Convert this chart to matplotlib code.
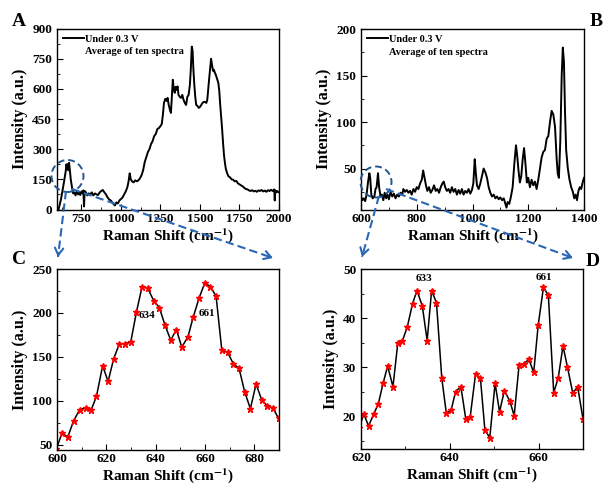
import matplotlib
matplotlib.use("Agg")
import matplotlib.pyplot as plt
from matplotlib.ticker import AutoMinorLocator, MultipleLocator
from matplotlib.patches import Ellipse, FancyArrowPatch
from matplotlib.lines import Line2D

# ---- data ----
a_shift = [605, 620, 640, 650, 655, 660, 663, 667, 671, 676, 682, 690, 697, 705, 712, 720, 728, 735,
           742, 750, 757, 762, 766, 770, 778, 786, 795, 805, 815, 825, 835, 845, 855, 865, 875, 885,
           895, 905, 915, 925, 935, 945, 955, 962, 970, 980, 990, 1000, 1010, 1020, 1030, 1040, 1048,
           1055, 1062, 1070, 1080, 1090, 1100, 1110, 1120, 1130, 1140, 1150, 1160, 1170, 1180, 1190,
           1200, 1210, 1220, 1230, 1240, 1250, 1258, 1265, 1272, 1280, 1288, 1295, 1302, 1310, 1316,
           1322, 1328, 1334, 1340, 1346, 1352, 1358, 1364, 1372, 1380, 1388, 1396, 1404, 1412, 1420,
           1428, 1436, 1442, 1448, 1453, 1458, 1464, 1470, 1476, 1484, 1492, 1500, 1508, 1516, 1524,
           1532, 1540, 1546, 1552, 1558, 1564, 1570, 1576, 1582, 1588, 1594, 1600, 1608, 1616, 1622,
           1628, 1634, 1640, 1646, 1652, 1658, 1664, 1672, 1680, 1690, 1700, 1710, 1720, 1730, 1740,
           1750, 1760, 1770, 1780, 1790, 1800, 1810, 1820, 1830, 1840, 1850, 1860, 1870, 1880, 1890,
           1900, 1910, 1920, 1930, 1940, 1950, 1960, 1966, 1970, 1973, 1976, 1982, 1988, 1994, 2000]
a_int = [0, 50, 140, 190, 225, 200, 225, 195, 232, 200, 150, 110, 80, 85, 70, 90, 75, 85,
         72, 90, 80, 95, 15, 92, 85, 70, 80, 75, 85, 70, 80, 75, 72, 85, 92, 97,
         85, 75, 60, 50, 45, 35, 25, 20, 35, 30, 45, 52, 60, 75, 90, 110, 140,
         180, 150, 140, 135, 145, 140, 145, 155, 170, 195, 235, 260, 285, 300, 325,
         340, 365, 375, 400, 405, 415, 425, 470, 530, 550, 540, 555, 520, 495, 480,
         560, 645, 600, 580, 610, 595, 612, 570, 560, 555, 570, 545, 530, 520, 560,
         570, 620, 700, 810, 790, 700, 620, 560, 520, 515, 505, 510, 520, 530, 535,
         535, 530, 545, 600, 650, 700, 750, 720, 690, 695, 680, 670, 650, 630, 590,
         520, 460, 400, 330, 270, 230, 200, 180, 165, 160, 150, 148, 140, 142, 130,
         125, 120, 115, 108, 102, 100, 95, 92, 96, 90, 93, 88, 95, 92, 97,
         90, 94, 88, 96, 92, 98, 92, 97, 100, 45, 95, 85, 92, 88, 85]

b_shift = [600, 605, 610, 615, 620, 625, 630, 633, 637, 642, 648, 652, 656, 661, 665, 670, 675, 680,
           685, 690, 695, 700, 706, 712, 718, 724, 730, 736, 742, 748, 752, 758, 764, 770, 776, 782,
           788, 794, 800, 806, 812, 818, 823, 828, 833, 838, 844, 850, 856, 862, 868, 874, 880, 886,
           892, 897, 902, 908, 914, 920, 926, 932, 938, 944, 950, 956, 962, 968, 974, 980, 986, 992,
           998, 1003, 1008, 1012, 1016, 1022, 1028, 1034, 1040, 1046, 1052, 1058, 1064, 1070, 1076,
           1082, 1088, 1094, 1100, 1106, 1112, 1118, 1122, 1126, 1132, 1138, 1144, 1150, 1156, 1160,
           1165, 1170, 1175, 1180, 1185, 1190, 1195, 1200, 1206, 1212, 1218, 1224, 1230, 1236, 1242,
           1248, 1254, 1260, 1266, 1272, 1278, 1284, 1290, 1296, 1302, 1306, 1310, 1315, 1320, 1324,
           1328, 1332, 1336, 1342, 1348, 1354, 1360, 1365, 1370, 1375, 1380, 1385, 1390, 1395, 1400]
b_int = [20, 16, 18, 15, 22, 35, 45, 40, 22, 18, 20, 28, 30, 45, 30, 20, 22, 16,
         24, 18, 22, 17, 25, 20, 23, 18, 22, 20, 24, 22, 28, 25, 27, 24, 26, 22,
         28, 25, 30, 28, 34, 38, 48, 40, 32, 26, 30, 24, 27, 32, 26, 28, 24, 30,
         34, 36, 30, 26, 28, 24, 30, 25, 28, 22, 27, 23, 28, 22, 26, 24, 28, 23,
         27, 34, 60, 45, 32, 28, 34, 42, 50, 46, 40, 30, 24, 20, 22,
         18, 20, 17, 19, 16, 18, 12, 8, 14, 12, 20, 30, 55, 75, 65,
         48, 35, 42, 60, 72, 55, 35, 40, 30, 38, 32, 36, 28, 38, 50,
         62, 68, 70, 82, 85, 100, 112, 108, 95, 60, 44, 40, 80, 150, 180,
         165, 110, 70, 50, 38, 30, 25, 18, 22, 16, 26, 30, 28, 35, 40]

c_shift = [599.7, 602.0, 604.4, 606.7, 609.2, 611.6, 613.9, 616.0, 618.5, 620.7, 623.0, 625.3,
           627.6, 629.9, 632.2, 634.5, 636.8, 639.2, 641.5, 643.8, 646.1, 648.4, 650.6, 653.1,
           655.2, 657.6, 659.9, 662.2, 664.5, 666.8, 669.2, 671.5, 673.8, 676.1, 678.4, 680.7,
           683.0, 685.3, 687.5, 689.8]
c_int = [45, 63, 59, 77, 90, 92, 90, 105, 140, 122, 148, 165,
         165, 167, 201, 230, 228, 214, 206, 186, 169, 181, 161, 173,
         195, 217, 234, 230, 219, 158, 155, 142, 137, 110, 91, 119,
         101, 94, 92, 80]

d_shift = [619.6, 620.6, 621.7, 622.9, 623.9, 625.0, 626.0, 627.2, 628.3, 629.3, 630.4, 631.6,
           632.6, 633.8, 634.9, 635.9, 637.0, 638.2, 639.2, 640.3, 641.3, 642.5, 643.6, 644.6,
           645.8, 646.9, 647.9, 649.0, 650.2, 651.2, 652.3, 653.5, 654.5, 655.6, 656.6, 657.8,
           658.9, 659.9, 661.1, 662.2, 663.4, 664.4, 665.5, 666.5, 667.7, 668.8, 670.0]
d_int = [17.5, 20.5, 18.0, 20.5, 22.5, 26.8, 30.2, 26.0, 35.0, 35.3, 38.1, 42.9,
         45.6, 42.5, 35.4, 45.6, 43.1, 27.7, 20.7, 21.2, 25.0, 26.0, 19.4, 19.9,
         28.6, 27.7, 17.2, 15.6, 26.7, 20.9, 25.2, 23.1, 20.1, 30.4, 30.6, 31.6,
         28.9, 38.5, 46.3, 44.6, 24.8, 27.7, 34.3, 30.0, 24.7, 26.0, 19.4]

c_peaks = [(634, 636.4, 197), (661, 660.8, 199)]
d_peaks = [(633, 634.2, 48.0), (661, 661.3, 48.2)]

# ---- style ----
plt.rcParams.update({
    "font.family": ["Liberation Serif", "DejaVu Serif"],
    "font.weight": "bold",
    "axes.labelweight": "bold",
    "mathtext.fontset": "stix",
    "axes.linewidth": 1.0,
    "xtick.direction": "in",
    "ytick.direction": "in",
    "xtick.labelsize": 9.5,
    "ytick.labelsize": 9.5,
    "xtick.major.size": 4,
    "ytick.major.size": 4,
    "xtick.minor.size": 2.5,
    "ytick.minor.size": 2.5,
    "xtick.major.pad": 2.5,
})

W, H = 603, 488
fig = plt.figure(figsize=(W / 100, H / 100), dpi=100)


def px_axes(left, top, right, bottom):
    return fig.add_axes([left / W, 1 - bottom / H, (right - left) / W, (bottom - top) / H])


def px(x, y):
    return (x / W, 1 - y / H)


def style(ax, xmaj, ymaj):
    ax.xaxis.set_major_locator(MultipleLocator(xmaj))
    ax.yaxis.set_major_locator(MultipleLocator(ymaj))
    ax.xaxis.set_minor_locator(AutoMinorLocator(2))
    ax.yaxis.set_minor_locator(AutoMinorLocator(2))
    ax.tick_params(which="both", top=False, right=False)
    ax.set_xlabel(r"Raman Shift (cm$^{\mathbf{-1}}$)", fontsize=11, labelpad=0.5)
    ax.set_ylabel("Intensity (a.u.)", fontsize=11.5, labelpad=3)


axA = px_axes(57, 28.5, 279, 209.5)
axB = px_axes(361, 29, 584, 209.5)
axC = px_axes(57, 269, 279, 450)
axD = px_axes(361, 269, 583, 449)

# A
axA.plot(a_shift, a_int, color="black", lw=1.4)
axA.set_xlim(595, 2000)
axA.set_ylim(0, 900)
style(axA, 250, 150)
axA.set_xticks([750, 1000, 1250, 1500, 1750, 2000])

# B
axB.plot(b_shift, b_int, color="black", lw=1.4)
axB.set_xlim(600, 1400)
axB.set_ylim(6, 200)
style(axB, 200, 50)

for ax in (axA, axB):
    handles = [Line2D([], [], color="black", lw=1.4), Line2D([], [], color="none")]
    ax.legend(handles, ["Under 0.3 V", "Average of ten spectra"], loc="upper left",
              frameon=False, prop={"size": 7.5, "weight": "bold"}, handlelength=2.0,
              handletextpad=0.15, borderaxespad=0.15, labelspacing=0.35)

# C
axC.plot(c_shift, c_int, color="black", lw=1.1, marker="*", markersize=5,
         markerfacecolor="red", markeredgecolor="red")
axC.set_xlim(600, 690)
axC.set_ylim(44, 250)
style(axC, 20, 50)
axC.set_xticks([600, 620, 640, 660, 680])
for lab, x, y in c_peaks:
    axC.text(x, y, str(lab), fontsize=8, ha="center", va="center", fontweight="bold")

# D
axD.plot(d_shift, d_int, color="black", lw=1.1, marker="*", markersize=5,
         markerfacecolor="red", markeredgecolor="red")
axD.set_xlim(620, 670)
axD.set_ylim(13.3, 50)
style(axD, 20, 10)
for lab, x, y in d_peaks:
    axD.text(x, y, str(lab), fontsize=8, ha="center", va="center", fontweight="bold")

# panel letters
for lab, x, y in [("A", 12, 21), ("B", 590, 21), ("C", 12, 260), ("D", 586, 261)]:
    fig.text(*px(x, y), lab, fontsize=14, fontweight="bold", ha="left", va="center")

# dashed circles + arrows linking the zoomed regions
blue = "#2a68b4"
for cx, cy, r in [(67.5, 176, 16), (376, 182, 15.5)]:
    fig.add_artist(Ellipse(px(cx, cy), 2 * r / W, 2 * r / H, transform=fig.transFigure,
                           fill=False, edgecolor="#24568f", lw=1.4, ls=(0, (3.5, 2))))

arrows = [((66, 191), (58, 257)), ((72, 189), (273, 258)),
          ((379, 196), (362, 257)), ((386, 189), (573, 258))]
for (x0, y0), (x1, y1) in arrows:
    fig.add_artist(Line2D([x0 / W, x1 / W], [1 - y0 / H, 1 - y1 / H], transform=fig.transFigure,
                          color=blue, lw=1.5, ls=(0, (4, 2))))
    # solid head at the end
    d = ((x1 - x0) ** 2 + (y1 - y0) ** 2) ** 0.5
    fx = x1 - (x1 - x0) * 4 / d
    fy = y1 - (y1 - y0) * 4 / d
    fig.add_artist(FancyArrowPatch(
        px(fx, fy), px(x1, y1), transform=fig.transFigure,
        arrowstyle="->,head_width=3,head_length=5", color=blue, lw=1.5,
        mutation_scale=1, shrinkA=0, shrinkB=0))

fig.savefig("out.png", dpi=100)
